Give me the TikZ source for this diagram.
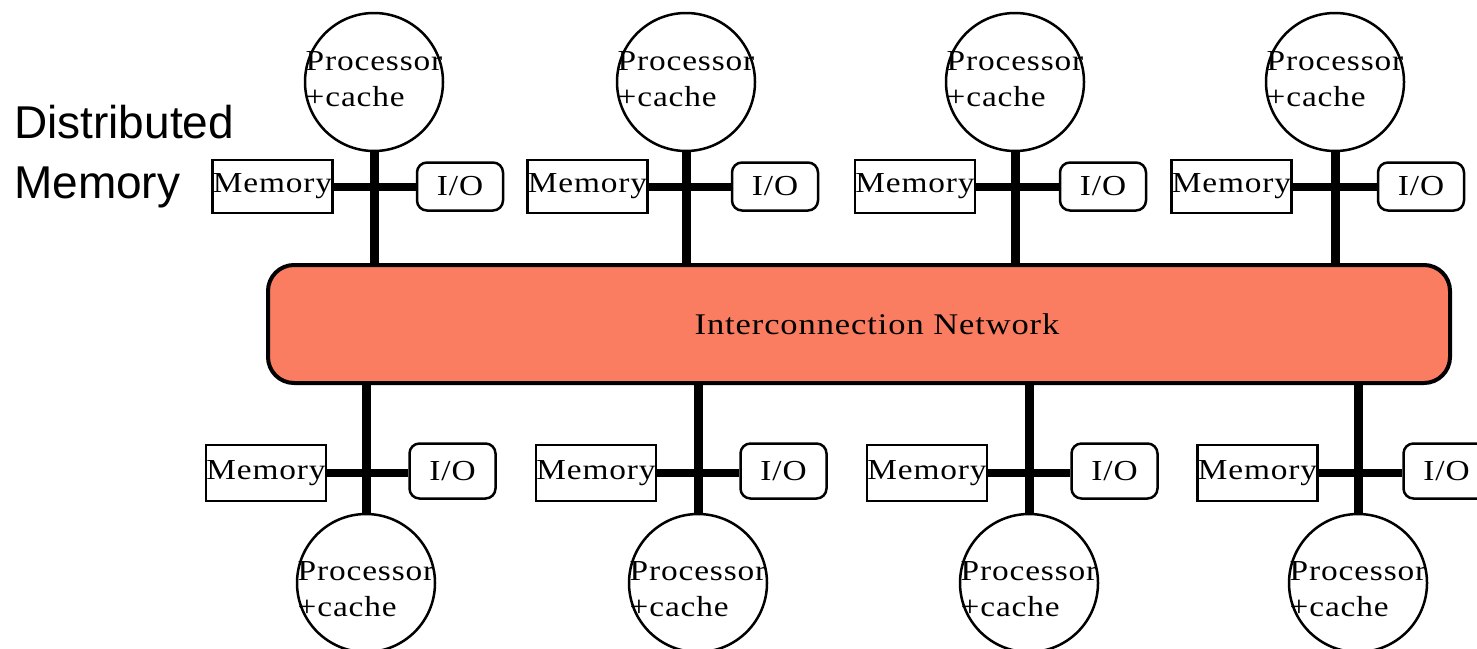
\documentclass[tikz,border=0pt]{standalone}
\usepackage{fontspec}
\setmainfont{Liberation Serif}
\newfontfamily\pixfont{Liberation Serif}[FakeStretch=1.15,LetterSpace=3]
\newfontfamily\labelfont{Liberation Sans}
\definecolor{netfill}{RGB}{250,125,97}
\tikzset{
  unitfont/.style={font=\pixfont\fontsize{29}{36}\selectfont},
  unit/.style={draw=black,line width=2.5pt,inner sep=0pt,fill=white,unitfont},
  membox/.style={unit,rectangle,minimum width=120pt,minimum height=54pt},
  iobox/.style={unit,rectangle,rounded corners=10pt,minimum width=86pt,minimum height=50pt},
  cpu/.style={unit,circle,minimum size=138pt,
    label={[unitfont,align=left,inner sep=0pt,yshift=#1]center:Processor\\+cache}},
  bus/.style={line width=9pt},
  tap/.style={line width=8pt},
  net/.style={draw=black,line width=4pt,fill=netfill,rounded corners=26pt,
    minimum width=1182pt,minimum height=118pt,inner sep=0pt}
}
\begin{document}
\begin{tikzpicture}[x=1pt,y=-1pt]
\useasboundingbox (0,0) rectangle (1477,648);
\clip (0,0) rectangle (1477,648);

% title
\node[anchor=base west,align=left,inner sep=0pt,
      font=\labelfont\fontsize{46}{60}\selectfont] (title) at (14,198)
  {Distributed\\Memory};

% interconnection network
\node[net,label={[name=netlabel,xshift=18pt,font=\pixfont\fontsize{30}{36}\selectfont]center:Interconnection Network}]
  (net) at (859,324) {};

% upper nodes: processor, memory, I/O
\foreach \i/\px/\mx/\ix in {1/374/272.5/460, 2/686/587.5/775, 3/1015/915/1103, 4/1335/1231.5/1421}{
  \node[membox,minimum height=53pt] (tm\i) at (\mx,186.5) {Memory};
  \node[iobox,minimum height=48pt] (ti\i) at (\ix,186.5) {I/O};
  \node[cpu=3pt] (tp\i) at (\px,82) {};
  \draw[tap] (tm\i) -- (ti\i);
  \draw[bus] (tp\i.south) -- (tp\i.south |- net.north);
}

% lower nodes: processor, memory, I/O
\foreach \i/\px/\mx/\ix in {1/366/266/452.5, 2/698/596/783.5, 3/1029/927/1114.5, 4/1358/1257.5/1446.5}{
  \node[membox,minimum height=56pt] (bm\i) at (\mx,473) {Memory};
  \node[iobox,minimum height=55pt] (bi\i) at (\ix,471) {I/O};
  \node[cpu=-6pt] (bp\i) at (\px,583) {};
  \draw[tap] (bm\i) -- (bi\i.west |- bm\i.center);
  \draw[bus] (net.south -| bp\i.north) -- (bp\i.north);
}
\end{tikzpicture}
\end{document}
